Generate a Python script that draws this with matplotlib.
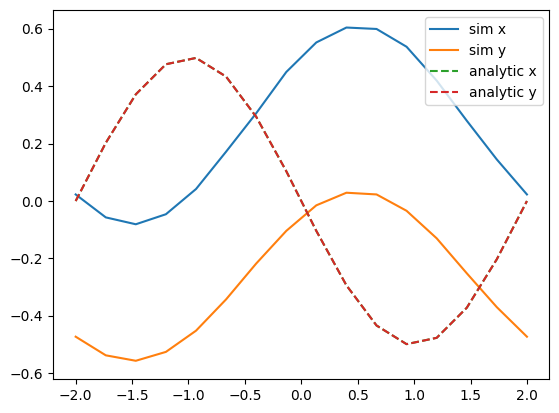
import numpy as np
import matplotlib.pyplot as plt

# grid of sample points
x = [-2.0, -1.733, -1.467, -1.2, -0.933, -0.667, -0.4, -0.133,
     0.133, 0.4, 0.667, 0.933, 1.2, 1.467, 1.733, 2.0]

# simulated values
sim_x = [0.023, -0.057, -0.081, -0.046, 0.042, 0.172, 0.306, 0.450,
         0.553, 0.605, 0.600, 0.538, 0.420, 0.280, 0.145, 0.023]
sim_y = [-0.473, -0.538, -0.557, -0.526, -0.452, -0.343, -0.218, -0.104,
         -0.015, 0.029, 0.023, -0.034, -0.130, -0.252, -0.370, -0.473]

# analytic values (x and y coincide)
ana_x = [0.0, 0.203, 0.372, 0.477, 0.499, 0.434, 0.294, 0.104,
         -0.104, -0.294, -0.434, -0.499, -0.477, -0.372, -0.203, 0.0]
ana_y = [0.0, 0.203, 0.372, 0.477, 0.499, 0.434, 0.294, 0.104,
         -0.104, -0.294, -0.434, -0.499, -0.477, -0.372, -0.203, 0.0]

fig, ax = plt.subplots(figsize=(5.59, 4.13), dpi=100)
plt.subplots_adjust(left=0.095, right=0.983, top=0.975, bottom=0.082)

ax.plot(x, sim_x, label="sim x")
ax.plot(x, sim_y, label="sim y")
ax.plot(x, ana_x, "--", label="analytic x")
ax.plot(x, ana_y, "--", label="analytic y")
ax.set_xticks([-2.0, -1.5, -1.0, -0.5, 0.0, 0.5, 1.0, 1.5, 2.0])
ax.set_yticks([-0.6, -0.4, -0.2, 0.0, 0.2, 0.4, 0.6])
ax.set_ylim(-0.621, 0.665)
ax.legend(loc="upper right")

plt.savefig("out.png", dpi=100)
